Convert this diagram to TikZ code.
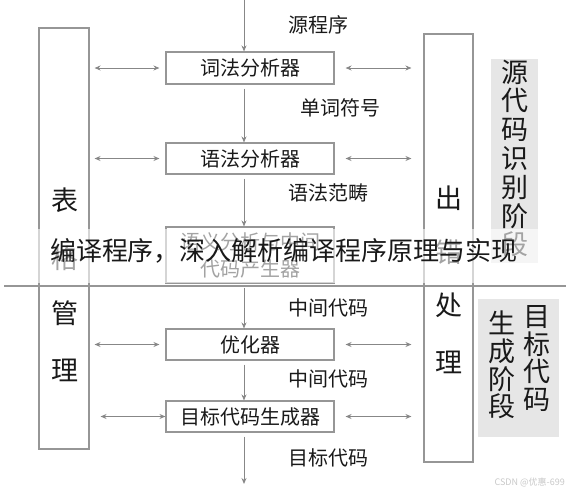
\documentclass[tikz,border=0pt]{standalone}
\usepackage{fontspec}
\setmainfont{Noto Sans CJK SC}
\usetikzlibrary{arrows.meta}
\definecolor{linegray}{RGB}{150,150,150}
\definecolor{arrgray}{RGB}{135,135,135}
\definecolor{stagegray}{RGB}{230,230,230}
\definecolor{inkblack}{RGB}{25,25,25}
\tikzset{
  box/.style={draw=linegray, line width=1.1pt, minimum width=168pt, inner sep=0pt, text=inkblack, font=\fontsize{20}{27}\selectfont, align=center},
  col/.style={draw=linegray, line width=1.1pt, inner sep=0pt},
  big/.style={font=\fontsize{27}{29}\selectfont, inner sep=0pt, text=inkblack},
  lbl/.style={anchor=west, font=\fontsize{20}{23}\selectfont, inner sep=0pt, text=inkblack},
  flow/.style={draw=arrgray, line width=1pt, shorten <=4pt, -{Stealth[length=6pt,width=5pt]}},
  link/.style={draw=arrgray, line width=1pt, {Stealth[length=6pt,width=5pt]}-{Stealth[length=6pt,width=5pt]}},
  stage/.style={fill=stagegray, inner sep=0pt}
}
\begin{document}
\begin{tikzpicture}[x=1pt,y=-1pt]
\useasboundingbox (0,0) rectangle (566,490);
% side columns
\node[col, minimum width=50pt, minimum height=421pt] (tbl) at (64,238.5) {};
\node[col, minimum width=49pt, minimum height=428pt] (err) at (448.5,248) {};
\node[big] (t1) at (65,200) {表};
\node[big] (t2) at (65,258) {格};
\node[big] (t3) at (65,313) {管};
\node[big] (t4) at (65,370) {理};
\node[big] (e1) at (449,198) {出};
\node[big] (e2) at (449,252) {错};
\node[big] (e3) at (449,305) {处};
\node[big] (e4) at (449,362) {理};
% stages
\node[stage, minimum width=47pt, minimum height=204pt] (srcstage) at (514.5,161) {};
\node[big, align=center, font=\fontsize{27}{28.8}\selectfont] (srctext) at (514.5,158.5) {源\\代\\码\\识\\别\\阶\\段};
\node[stage, minimum width=81pt, minimum height=138pt] (tgtstage) at (518.5,368) {};
\node[big, align=center, font=\fontsize{27}{27.7}\selectfont] (tgtright) at (537,358.5) {目\\标\\代\\码};
\node[big, align=center, font=\fontsize{27}{27.7}\selectfont] (tgtleft) at (502,365) {生\\成\\阶\\段};
% phases
\node[box, minimum height=32pt] (lex) at (250,68) {词法分析器};
\node[box, minimum height=31pt] (syn) at (250,158.5) {语法分析器};
\node[box, minimum height=56pt] (sem) at (250,255) {语义分析与中间\\代码产生器};
\node[box, minimum height=31pt] (opt) at (250,344.5) {优化器};
\node[box, minimum height=31pt] (gen) at (250,416.5) {目标代码生成器};
\coordinate (in) at (244,0);
\coordinate (out) at (244,484);
\draw[flow, shorten <=0pt] (in) -- (lex.north -| in);
\draw[flow] (lex.south -| in) -- (syn.north -| in);
\draw[flow] (syn.south -| in) -- (sem.north -| in);
\draw[flow] (sem.south -| in) -- (opt.north -| in);
\draw[flow] (opt.south -| in) -- (gen.north -| in);
\draw[flow] (gen.south -| in) -- (out);
\node[lbl] (l1) at (288,25) {源程序};
\node[lbl] (l2) at (300,108) {单词符号};
\node[lbl] (l3) at (288,193) {语法范畴};
\node[lbl] (l4) at (288,308) {中间代码};
\node[lbl] (l5) at (288,379) {中间代码};
\node[lbl] (l6) at (288,458) {目标代码};
% table links
\draw[link, shorten <=5pt, shorten >=6pt] (tbl.east |- lex) -- (lex.west);
\draw[link, shorten <=5pt, shorten >=6pt] (tbl.east |- syn) -- (syn.west);
\draw[link, shorten <=5pt, shorten >=6pt] (tbl.east |- opt) -- (opt.west);
\draw[link, shorten <=11pt, shorten >=0pt] (tbl.east |- gen) -- (gen.west);
% error links
\draw[link, shorten <=11pt, shorten >=12pt] (lex.east) -- (err.west |- lex);
\draw[link, shorten <=11pt, shorten >=12pt] (syn.east) -- (err.west |- syn);
\draw[link, shorten <=11pt, shorten >=12pt] (opt.east) -- (err.west |- opt);
\draw[link, shorten <=11pt, shorten >=12pt] (gen.east) -- (err.west |- gen);
% divider
\coordinate (divl) at (4,286);
\coordinate (divr) at (566,286);
\draw[linegray, line width=1.2pt] (divl) -- (divr);
% caption band
\fill[white, opacity=0.6] (0,229) rectangle (566,283);
\node[font=\fontsize{26}{28}\selectfont, inner sep=0pt, text=inkblack] (cap) at (284,251) {编译程序，深入解析编译程序原理与实现};
\node[font=\fontsize{9}{10}\selectfont, inner sep=0pt, text={rgb,255:red,200;green,200;blue,200}, anchor=east] (wm) at (565,482) {CSDN @优惠-699};
\end{tikzpicture}
\end{document}
